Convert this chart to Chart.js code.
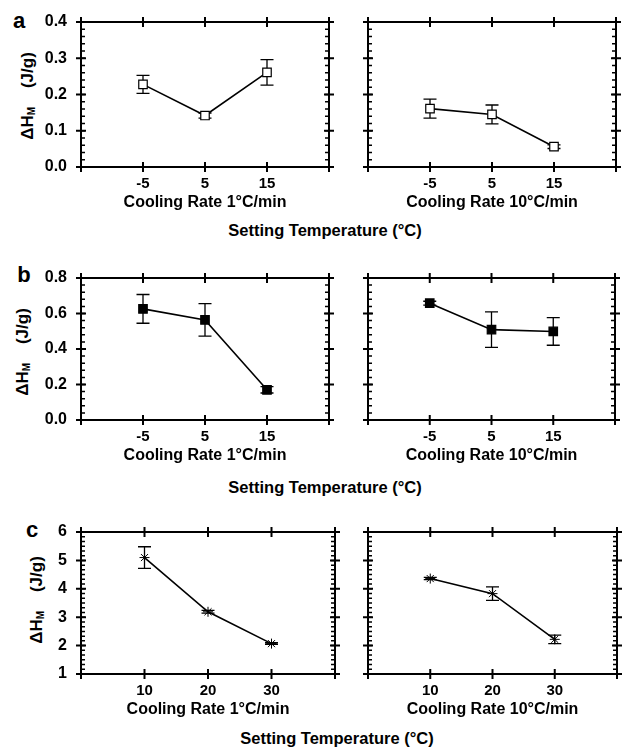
<!DOCTYPE html>
<html>
<head>
<meta charset="utf-8">
<script src="https://cdn.jsdelivr.net/npm/chart.js@4.4.0/dist/chart.umd.min.js"></script>
<style>
  body { margin: 0; background: #fff; }
  #page { position: relative; width: 625px; height: 749px; font-family: "Liberation Sans", Arial, sans-serif; font-weight: bold; color: #000; }
  canvas { position: absolute; }
  .lbl { position: absolute; font-size: 22px; line-height: 1; transform: translate(-50%, -50%); }
  .xt { position: absolute; font-size: 16.5px; white-space: nowrap; transform: translate(-50%, -50%); }
  .yt { position: absolute; font-size: 17px; white-space: nowrap; transform: translate(-50%, -50%) rotate(-90deg); }
  .yt sub { font-size: 10px; vertical-align: -2px; }
</style>
</head>
<body>
<div id="page">
  <div class="lbl" style="left:19px;top:21px">a</div>
  <div class="lbl" style="left:24px;top:275px">b</div>
  <div class="lbl" style="left:32px;top:530px">c</div>

  <div class="yt" style="left:28px;top:96px">ΔH<sub>M</sub>&nbsp;&nbsp;&nbsp;&nbsp;(J/g)</div>
  <div class="yt" style="left:23px;top:352px">ΔH<sub>M</sub>&nbsp;&nbsp;&nbsp;&nbsp;(J/g)</div>
  <div class="yt" style="left:37px;top:600px">ΔH<sub>M</sub>&nbsp;&nbsp;&nbsp;&nbsp;(J/g)</div>

  <div class="xt" style="left:325px;top:230px">Setting Temperature (°C)</div>
  <div class="xt" style="left:325px;top:487px">Setting Temperature (°C)</div>
  <div class="xt" style="left:337px;top:738px">Setting Temperature (°C)</div>

  <canvas id="aSlow"></canvas>
  <canvas id="aFast"></canvas>
  <canvas id="bSlow"></canvas>
  <canvas id="bFast"></canvas>
  <canvas id="cSlow"></canvas>
  <canvas id="cFast"></canvas>
</div>
<script>
// setting temperatures (a, b) and rates (c) on the x axis
const tempTicks = [-5, 5, 15];
const rateTicks = [10, 20, 30];

// panel a - open squares
const aSlowVals = [0.228, 0.142, 0.261];
const aSlowErr = [0.025, 0.007, 0.035];
const aFastVals = [0.161, 0.145, 0.056];
const aFastErr = [0.026, 0.026, 0.005];

// panel b - filled squares
const bSlowVals = [0.626, 0.564, 0.170];
const bSlowErr = [0.081, 0.092, 0.018];
const bFastVals = [0.658, 0.509, 0.499];
const bFastErr = [0.011, 0.100, 0.078];

// panel c - stars
const cSlowVals = [5.10, 3.19, 2.07];
const cSlowErr = [0.38, 0.05, 0.03];
const cFastVals = [4.36, 3.83, 2.22];
const cFastErr = [0.04, 0.24, 0.15];

const FONT = 'Liberation Sans';
const INK = 'rgb(0,0,0)';

// error bars under the markers, tick marks on top
const decorPlugin = {
  id: 'decor',
  beforeDatasetsDraw(chart) {
    const { ctx, scales: { x, y } } = chart;
    const pts = chart.data.datasets[0].data;
    const err = chart.config.options.errValues;
    ctx.save();
    ctx.strokeStyle = INK;
    ctx.lineWidth = 1.3;
    ctx.beginPath();
    pts.forEach((p, i) => {
      const px = x.getPixelForValue(p.x);
      const top = y.getPixelForValue(p.y + err[i]);
      const bot = y.getPixelForValue(p.y - err[i]);
      ctx.moveTo(px, top); ctx.lineTo(px, bot);
      ctx.moveTo(px - 6.5, top); ctx.lineTo(px + 6.5, top);
      ctx.moveTo(px - 6.5, bot); ctx.lineTo(px + 6.5, bot);
    });
    ctx.stroke();
    ctx.restore();
  },
  afterDatasetsDraw(chart) {
    const { ctx, chartArea: a, scales: { x, y } } = chart;
    const f = chart.config.options.frameSteps;
    ctx.save();
    ctx.strokeStyle = INK;
    ctx.lineWidth = 2;
    ctx.beginPath();
    ctx.rect(a.left, a.top, a.right - a.left, a.bottom - a.top);
    for (let v = x.min; v <= x.max + 1e-9; v += f.x) {
      const px = x.getPixelForValue(v);
      ctx.moveTo(px, a.top - 5); ctx.lineTo(px, a.top + 5);
      ctx.moveTo(px, a.bottom - 5); ctx.lineTo(px, a.bottom + 5);
    }
    for (let v = y.min; v <= y.max + 1e-9; v += f.y) {
      const py = y.getPixelForValue(v);
      ctx.moveTo(a.left - 5, py); ctx.lineTo(a.left + 5, py);
      ctx.moveTo(a.right - 5, py); ctx.lineTo(a.right + 5, py);
    }
    ctx.stroke();
    ctx.lineWidth = 1.5;
    ctx.beginPath();
    const minor = f.y / f.div;
    for (let v = y.min; v <= y.max + 1e-9; v += minor) {
      const py = y.getPixelForValue(v);
      ctx.moveTo(a.left, py); ctx.lineTo(a.left + 4, py);
      ctx.moveTo(a.right, py); ctx.lineTo(a.right - 4, py);
    }
    ctx.stroke();
    ctx.restore();
  }
};

function edgeAxis(position, min, max, fitSide) {
  return {
    type: 'linear',
    position,
    min,
    max,
    grid: { display: false, drawTicks: false },
    border: { display: true, color: INK, width: 2 },
    ticks: { display: false },
    afterFit: s => { s[fitSide] = 0; }
  };
}

function makePanel(id, box, area, xAxis, yAxis, vals, errs, marker, title, showY) {
  const cv = document.getElementById(id);
  cv.style.left = box.left + 'px';
  cv.style.top = box.top + 'px';
  cv.width = box.width;
  cv.height = box.height;
  cv.style.width = box.width + 'px';
  cv.style.height = box.height + 'px';

  const pts = xAxis.labels.map((xv, i) => ({ x: xv, y: vals[i] }));

  return new Chart(cv, {
    type: 'line',
    data: {
      datasets: [{
        data: pts,
        borderColor: INK,
        borderWidth: 1.6,
        tension: 0,
        pointStyle: marker.style,
        pointRadius: marker.radius,
        pointBorderWidth: marker.border,
        pointBorderColor: INK,
        pointBackgroundColor: marker.fill
      }]
    },
    options: {
      responsive: false,
      animation: false,
      devicePixelRatio: 1,
      errValues: errs,
      frameSteps: { x: xAxis.step, y: yAxis.step, div: yAxis.minorDiv },
      layout: {
        padding: { top: area.top - box.top, right: box.left + box.width - area.right, left: 0, bottom: 0 }
      },
      plugins: {
        legend: { display: false },
        tooltip: { enabled: false }
      },
      scales: {
        x: {
          type: 'linear',
          min: xAxis.min,
          max: xAxis.max,
          grid: { display: false, drawTicks: false },
          border: { display: true, color: INK, width: 2 },
          ticks: {
            stepSize: xAxis.step,
            autoSkip: false,
            maxRotation: 0,
            padding: 8,
            color: INK,
            font: { family: FONT, size: 15, weight: 'bold' },
            callback: v => xAxis.labels.includes(v) ? String(v) : ''
          },
          title: {
            display: true,
            text: title,
            color: INK,
            padding: 0,
            font: { family: FONT, size: 16, weight: 'bold' }
          },
          afterFit: s => { s.height = box.top + box.height - area.bottom; }
        },
        xTop: edgeAxis('top', xAxis.min, xAxis.max, 'height'),
        y: {
          min: yAxis.min,
          max: yAxis.max,
          grid: { display: false, drawTicks: false },
          border: { display: true, color: INK, width: 2 },
          ticks: {
            display: showY,
            stepSize: yAxis.step,
            padding: 14,
            color: INK,
            font: { family: FONT, size: 16, weight: 'bold' },
            callback: v => yAxis.digits ? Number(v).toFixed(yAxis.digits) : String(Math.round(v))
          },
          afterFit: s => { s.width = area.left - box.left; }
        },
        yRight: edgeAxis('right', yAxis.min, yAxis.max, 'width')
      }
    },
    plugins: [decorPlugin]
  });
}

const xTemp = { min: -15, max: 25, step: 10, labels: tempTicks };
const xRate = { min: 0, max: 40, step: 10, labels: rateTicks };
const yA = { min: 0, max: 0.4, step: 0.1, minorDiv: 5, digits: 1 };
const yB = { min: 0, max: 0.8, step: 0.2, minorDiv: 5, digits: 1 };
const yC = { min: 1, max: 6, step: 1, minorDiv: 6, digits: 0 };

const openSq = { style: 'rect', radius: 6, border: 1.2, fill: '#fff' };
const fullSq = { style: 'rect', radius: 6, border: 1.2, fill: INK };
const star = { style: 'star', radius: 5, border: 1, fill: INK };

const slow = 'Cooling Rate 1°C/min';
const fast = 'Cooling Rate 10°C/min';

makePanel('aSlow', { left: 0, top: -6, width: 345, height: 218 }, { left: 81, top: 22, right: 329, bottom: 167 },
  xTemp, yA, aSlowVals, aSlowErr, openSq, slow, true);
makePanel('aFast', { left: 345, top: -6, width: 280, height: 218 }, { left: 368, top: 22, right: 616, bottom: 167 },
  xTemp, yA, aFastVals, aFastErr, openSq, fast, false);

makePanel('bSlow', { left: 0, top: 250, width: 345, height: 215 }, { left: 81, top: 278, right: 329, bottom: 420 },
  xTemp, yB, bSlowVals, bSlowErr, fullSq, slow, true);
makePanel('bFast', { left: 345, top: 250, width: 280, height: 215 }, { left: 368, top: 278, right: 615, bottom: 420 },
  xTemp, yB, bFastVals, bFastErr, fullSq, fast, false);

makePanel('cSlow', { left: 0, top: 505, width: 345, height: 214 }, { left: 81, top: 532, right: 335, bottom: 674 },
  xRate, yC, cSlowVals, cSlowErr, star, slow, true);
makePanel('cFast', { left: 345, top: 505, width: 280, height: 214 }, { left: 368, top: 532, right: 622, bottom: 674 },
  xRate, yC, cFastVals, cFastErr, star, fast, false);
</script>
</body>
</html>
